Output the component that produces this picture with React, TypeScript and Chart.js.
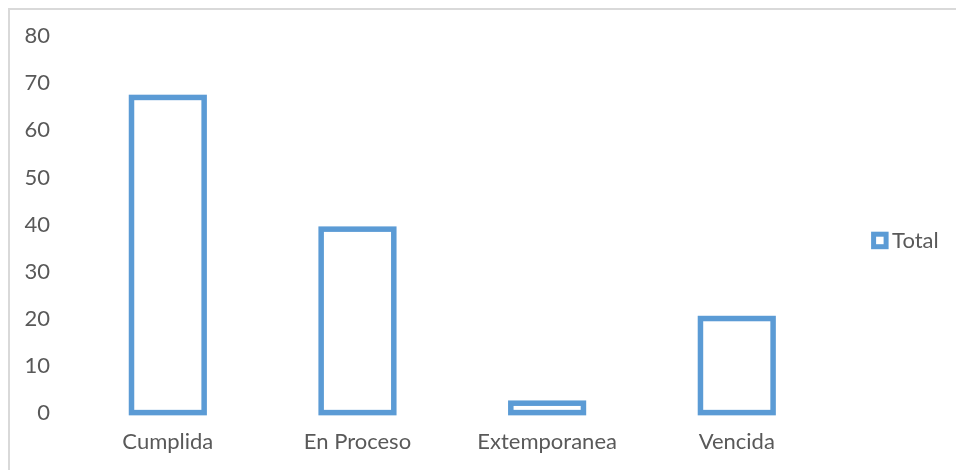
import React, { useEffect, useRef } from "react";
import { Chart, registerables } from "chart.js";

Chart.register(...registerables);

// ---- data ----
const categories = ["Cumplida", "En Proceso", "Extemporanea", "Vencida"];
const totals = [67, 39, 2, 20];
const seriesName = "Total";
const yTicks = [0, 10, 20, 30, 40, 50, 60, 70, 80];

// ---- styles ----
const BLUE = "#5B9BD5";
const TEXT = "#595959";
const FONT = "Lato, 'Open Sans', sans-serif";
const FONT_SIZE = 22;

// Excel-like outlined bars: stroke centred on the bar rectangle computed by Chart.js
const outlineBars = {
  id: "outlineBars",
  afterDatasetsDraw(chart: any) {
    const ctx = chart.ctx;
    chart.data.datasets.forEach((ds: any, i: number) => {
      const meta = chart.getDatasetMeta(i);
      meta.data.forEach((bar: any) => {
        const { x, y, base, width } = bar.getProps(["x", "y", "base", "width"], true);
        ctx.save();
        ctx.lineWidth = 5.5;
        ctx.strokeStyle = ds.outlineColor || BLUE;
        ctx.lineJoin = "miter";
        ctx.strokeRect(x - width / 2, y, width, base - y);
        ctx.restore();
      });
    });
  },
};

// Legend on the right, Excel style
const sideLegend = {
  id: "sideLegend",
  afterDraw(chart: any) {
    const ctx = chart.ctx;
    const area = chart.chartArea;
    const ds = chart.data.datasets[0];
    const bx = area.right + 42;
    const cy = (area.top + area.bottom) / 2 + 16;
    const size = 12.5;
    ctx.save();
    ctx.fillStyle = "#FFFFFF";
    ctx.fillRect(bx, cy - size / 2, size, size);
    ctx.lineWidth = 5;
    ctx.strokeStyle = BLUE;
    ctx.strokeRect(bx, cy - size / 2, size, size);
    ctx.fillStyle = TEXT;
    ctx.font = `${FONT_SIZE}px ${FONT}`;
    ctx.textAlign = "left";
    ctx.textBaseline = "middle";
    ctx.fillText(ds.label, bx + 18.5, cy);
    ctx.restore();
  },
};

export default function App() {
  const ref = useRef<HTMLCanvasElement>(null);

  useEffect(() => {
    const chart = new Chart(ref.current as HTMLCanvasElement, {
      type: "bar",
      data: {
        labels: categories,
        datasets: [
          {
            label: seriesName,
            data: totals,
            backgroundColor: "rgba(0,0,0,0)",
            borderWidth: 0,
            outlineColor: BLUE,
            barPercentage: 0.383,
            categoryPercentage: 1,
          } as any,
        ],
      },
      options: {
        animation: false,
        responsive: true,
        maintainAspectRatio: false,
        layout: { padding: { top: 26.3, right: 124.4, bottom: 0, left: 0 } },
        plugins: {
          legend: { display: false },
          tooltip: { enabled: false },
        },
        scales: {
          x: {
            grid: { display: false, drawTicks: false },
            border: { display: false },
            ticks: {
              color: TEXT,
              font: { family: FONT, size: FONT_SIZE },
              padding: 16,
              maxRotation: 0,
              autoSkip: false,
            },
            afterFit: (s: any) => {
              s.height = 57.4;
              s.paddingLeft = 0;
              s.paddingRight = 0;
            },
          },
          y: {
            min: 0,
            max: 80,
            grid: { display: false, drawTicks: false },
            border: { display: false },
            ticks: {
              color: TEXT,
              font: { family: FONT, size: FONT_SIZE },
              padding: 23,
            },
            afterBuildTicks: (s: any) => {
              s.ticks = yTicks.map((v) => ({ value: v }));
            },
            afterFit: (s: any) => {
              s.width = 63;
              s.paddingTop = 0;
              s.paddingBottom = 0;
            },
          },
        },
      },
      plugins: [outlineBars, sideLegend],
    });
    return () => chart.destroy();
  }, []);

  return (
    <>
      <style>{`html,body{overflow:hidden;margin:0;padding:0;}`}</style>
      <div
        style={{
          position: "fixed",
          left: 8,
          top: 8,
          width: 960,
          height: 470,
          boxSizing: "border-box",
          borderTop: "2px solid #D9D9D9",
          borderLeft: "2px solid #D9D9D9",
          background: "#FFFFFF",
        }}
      >
        <div style={{ position: "relative", width: 946, height: 460 }}>
          <canvas ref={ref} />
        </div>
      </div>
    </>
  );
}
